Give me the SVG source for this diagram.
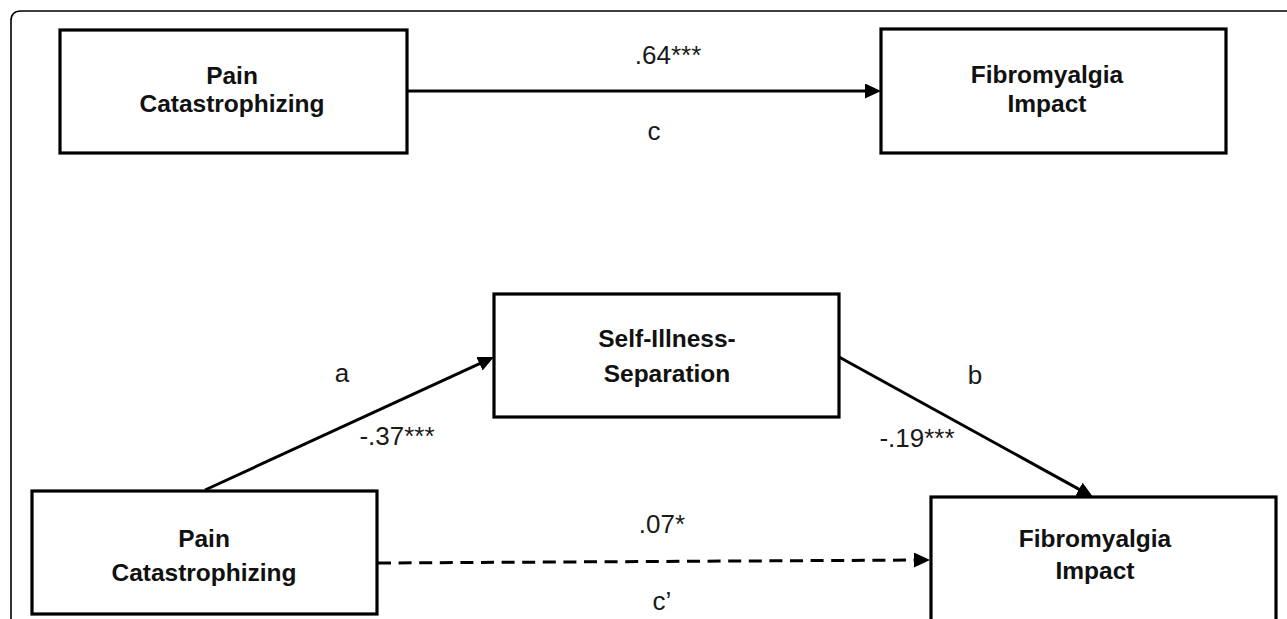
<svg xmlns="http://www.w3.org/2000/svg" width="1287" height="619" viewBox="0 0 1287 619">
  <style>
    .box { fill: #ffffff; stroke: #000000; stroke-width: 3.2; }
    .node-label { font-family: "Liberation Sans", Arial, sans-serif; font-weight: bold; font-size: 24.5px; fill: #111111; text-anchor: middle; }
    .edge { stroke: #000000; stroke-width: 3; fill: none; }
    .dashed { stroke-dasharray: 13 7.6; }
    .edge-label { font-family: "Liberation Sans", Arial, sans-serif; font-size: 26px; fill: #1a1a1a; text-anchor: middle; }
    .frame { fill: none; stroke: #000000; stroke-width: 1.6; }
  </style>
  <defs>
    <marker id="arrow" markerUnits="userSpaceOnUse" markerWidth="18" markerHeight="16" refX="8" refY="7.5" orient="auto">
      <path d="M0,0 L16,7.5 L0,15 z" fill="#000000"/>
    </marker>
  </defs>
  <rect x="0" y="0" width="1287" height="619" fill="#ffffff"/>
  <path class="frame" d="M11,619 L11,21 Q11,11 21,11 L1287,11"/>

  <g id="connectors">
    <g id="edge-c">
      <line class="edge" x1="407" y1="91" x2="873" y2="91" marker-end="url(#arrow)"/>
      <text class="edge-label" x="668" y="64">.64***</text>
      <text class="edge-label" x="654" y="140">c</text>
    </g>
    <g id="edge-a">
      <line class="edge" x1="205" y1="490" x2="486.7" y2="360.4" marker-end="url(#arrow)"/>
      <text class="edge-label" x="342" y="382">a</text>
      <text class="edge-label" x="397" y="445">-.37***</text>
    </g>
    <g id="edge-b">
      <line class="edge" x1="839" y1="357" x2="1086" y2="493.1" marker-end="url(#arrow)"/>
      <text class="edge-label" x="975" y="384">b</text>
      <text class="edge-label" x="917" y="447">-.19***</text>
    </g>
    <g id="edge-cprime">
      <line class="edge dashed" x1="378" y1="563" x2="922" y2="560" marker-end="url(#arrow)"/>
      <text class="edge-label" x="662" y="533">.07*</text>
      <text class="edge-label" x="662" y="610">c’</text>
    </g>
  </g>

  <g id="node-pain-top">
    <rect class="box" x="60" y="30" width="347" height="123"/>
    <text class="node-label" x="232" y="84">Pain</text>
    <text class="node-label" x="232" y="112">Catastrophizing</text>
  </g>
  <g id="node-fibro-top">
    <rect class="box" x="881" y="29" width="345" height="124"/>
    <text class="node-label" x="1047" y="83">Fibromyalgia</text>
    <text class="node-label" x="1047" y="112">Impact</text>
  </g>
  <g id="node-sis">
    <rect class="box" x="494" y="294" width="345" height="123"/>
    <text class="node-label" x="667" y="347">Self-Illness-</text>
    <text class="node-label" x="667" y="382">Separation</text>
  </g>
  <g id="node-pain-bottom">
    <rect class="box" x="32" y="491" width="345" height="123"/>
    <text class="node-label" x="204" y="547">Pain</text>
    <text class="node-label" x="204" y="581">Catastrophizing</text>
  </g>
  <g id="node-fibro-bottom">
    <rect class="box" x="931" y="497" width="345" height="140"/>
    <text class="node-label" x="1095" y="547">Fibromyalgia</text>
    <text class="node-label" x="1095" y="579">Impact</text>
  </g>
</svg>
